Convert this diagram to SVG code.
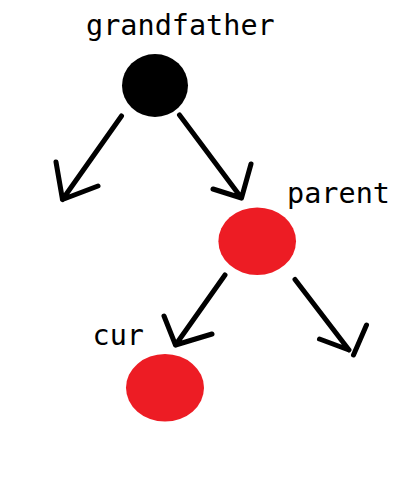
<svg xmlns="http://www.w3.org/2000/svg" width="413" height="502" viewBox="0 0 413 502">
<style>
.lbl{font-family:"DejaVu Sans Mono","Liberation Mono",monospace;font-size:28.5px;fill:#000}
.edge{fill:none;stroke:#000;stroke-width:5;stroke-linecap:round;stroke-linejoin:round}
.red{fill:#ED1C24}
</style>
<rect width="413" height="502" fill="#fff"/>
<g id="connectors">
<path class="edge" d="M121.5,116 L62.5,199.5 M56,162 L62.5,199.5 L98,186"/>
<path class="edge" d="M179.5,115 L241.5,198 M251,164 L241.5,198 L213,189"/>
<path class="edge" d="M225,275 L175.5,345 M164,316 L175.5,345 L212,334"/>
<path class="edge" d="M295,279.5 L349,350 M366.5,325 L353.5,355 M319.5,339 L349,350"/>
</g>
<g id="grandfather">
<ellipse cx="155" cy="85.5" rx="33" ry="31.5" fill="#000"/>
<text class="lbl" x="86" y="35">grandfather</text>
</g>
<g id="parent">
<ellipse class="red" cx="257.2" cy="241.2" rx="38.8" ry="33.8"/>
<text class="lbl" x="287" y="203">parent</text>
</g>
<g id="cur">
<ellipse class="red" cx="165" cy="387.8" rx="39" ry="33.8"/>
<text class="lbl" x="92.5" y="345">cur</text>
</g>
</svg>
